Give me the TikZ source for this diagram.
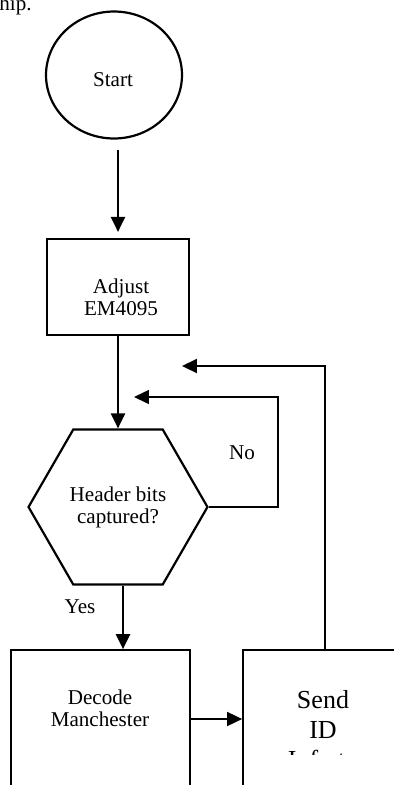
\documentclass[tikz,border=0pt]{standalone}
\usepackage{fontspec}
\setmainfont{Liberation Serif}
\usetikzlibrary{arrows.meta,positioning,shapes.geometric}
\tikzset{
  >={Triangle[length=3mm,width=2.8mm]},
  flow/.style={->,line width=1.25pt},
  thin flow/.style={->,line width=0.85pt},
  frame/.style={draw,line width=#1,minimum width=3.58cm,minimum height=2.76cm},
  frame/.default=1pt,
  txt/.style={font=\fontsize{12}{12.5}\selectfont,align=center,inner sep=0pt},
  big txt/.style={font=\fontsize{14.8}{17}\selectfont,align=center,inner sep=0pt},
}

\begin{document}
\begin{tikzpicture}[x=0.02cm,y=-0.02cm]
  \clip (0,0) rectangle (394,785);
  \node[txt,anchor=base west] (prev) at (-1,10) {hip.};
  % start and setup
  \node[ellipse,draw,line width=1.25pt,minimum width=2.72cm,minimum height=2.54cm] (start) at (114,75) {};
  \node[txt] (starttxt) at (113,80) {Start};
  \node[draw,line width=1.25pt,minimum width=2.84cm,minimum height=1.92cm] (adjust) at (118,287) {};
  \node[txt] (adjusttxt) at (121,297) {Adjust\\EM4095};
  % header check
  \node[regular polygon,regular polygon sides=6,draw,line width=1.25pt,minimum size=3.58cm,txt] (hex) at (118,507) {Header bits\\captured?};
  \node[txt] (no) at (242,453) {No};
  \node[txt] (yes) at (80,607) {Yes};
  % lower boxes
  \node[frame] (decode) at (100.5,719) {};
  \node[txt] (decodetxt) at (100,708) {Decode\\Manchester};
  \node[frame,minimum width=3.6cm] (send) at (333,719) {};
  \begin{scope}
    \clip (243,650) rectangle (394,754);
    \node[big txt] (sendtxt) at (323,729.5) {Send\\ID\\Info to};
  \end{scope}
  % connectors
  \coordinate (noend) at (134,397);
  \coordinate (loopend) at (182,366);
  \draw[flow,shorten <=0.2cm,shorten >=0.12cm] (start.south -| adjust.north) -- (adjust.north);
  \draw[flow] (adjust.south) -- (adjust.south |- hex.north);
  \draw[thin flow] (hex.east) -- ++(69,0) |- (noend);
  \draw[flow] ([xshift=0.1cm]hex.south) -- ([xshift=0.1cm]hex.south |- decode.north);
  \draw[flow,line width=1pt] (decode.east) -- (send.west);
  \draw[flow] ([xshift=-0.16cm]send.north) |- (loopend);
\end{tikzpicture}
\end{document}
